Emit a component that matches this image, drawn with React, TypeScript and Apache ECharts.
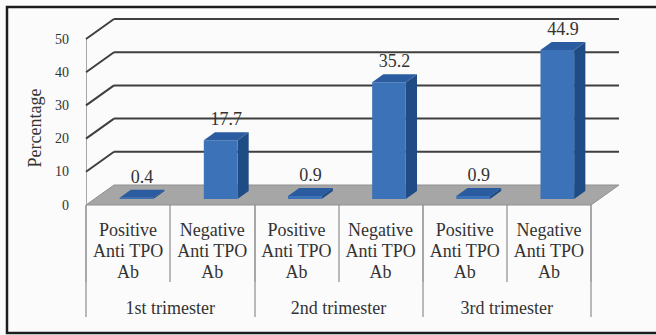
import React, { useEffect, useRef } from "react";
import * as echarts from "echarts";

const categories = [
  "Positive\nAnti TPO\nAb",
  "Negative\nAnti TPO\nAb",
  "Positive\nAnti TPO\nAb",
  "Negative\nAnti TPO\nAb",
  "Positive\nAnti TPO\nAb",
  "Negative\nAnti TPO\nAb",
];
const trimesters = ["1st trimester", "2nd trimester", "3rd trimester"];
const percentages = [0.4, 17.7, 0.9, 35.2, 0.9, 44.9];
const yTicks = [0, 10, 20, 30, 40, 50];

const DX = 28;
const DY = -20;
const FONT = "Liberation Serif";
const TEXT = "#333333";

export default function App() {
  const ref = useRef<HTMLDivElement>(null);
  useEffect(() => {
    const chart = echarts.init(ref.current!, null, { renderer: "svg" });
    const option: any = {
      animation: false,
      backgroundColor: "#fbfbfb",
      textStyle: { fontFamily: FONT },
      graphic: [
        {
          type: "rect",
          silent: true,
          shape: { x: 7, y: 7, width: 700, height: 326 },
          style: { fill: "none", stroke: "#1c1c1c", lineWidth: 2.5 },
        },
      ],
      grid: { left: 86, right: 65, top: 39, bottom: 130 },
      xAxis: [
        {
          type: "category",
          data: categories,
          axisLine: { show: false },
          axisTick: { show: true, length: 77, lineStyle: { color: "#a3a3a3", width: 1.5 } },
          axisLabel: {
            interval: 0,
            margin: 14,
            fontFamily: FONT,
            fontSize: 18,
            lineHeight: 21,
            color: TEXT,
          },
        },
        {
          type: "category",
          data: trimesters,
          position: "bottom",
          axisLine: { show: false },
          axisTick: { show: true, length: 112, lineStyle: { color: "#a3a3a3", width: 1.5 } },
          axisLabel: {
            interval: 0,
            margin: 94,
            fontFamily: FONT,
            fontSize: 18,
            color: TEXT,
          },
        },
      ],
      yAxis: {
        type: "value",
        min: 0,
        max: 50,
        interval: 10,
        name: "Percentage",
        nameLocation: "middle",
        nameGap: 30,
        nameRotate: 90,
        nameTextStyle: { fontFamily: FONT, fontSize: 18, color: TEXT, padding: [0, 12, 0, 0] },
        axisLine: { show: true, lineStyle: { color: "#a8a8a8", width: 1 } },
        axisTick: { show: false },
        splitLine: { show: false },
        axisLabel: { margin: 17, fontFamily: FONT, fontSize: 14, color: TEXT },
      },
      series: [
        {
          type: "custom",
          z: 1,
          silent: true,
          data: yTicks.map((v) => [0, v]),
          encode: { x: 0, y: 1 },
          renderItem: (params: any, api: any) => {
            const cs = params.coordSys;
            const v = api.value(1);
            const y = api.coord([0, v])[1];
            const x0 = cs.x;
            const x1 = cs.x + cs.width;
            if (v === 0) {
              return {
                type: "polygon",
                shape: { points: [[x0, y], [x1, y], [x1 + DX, y + DY], [x0 + DX, y + DY]] },
                style: { fill: "#a6a6a6", stroke: "#8f8f8f", lineWidth: 1 },
              };
            }
            return {
              type: "group",
              children: [
                {
                  type: "line",
                  shape: { x1: x0, y1: y, x2: x0 + DX, y2: y + DY },
                  style: { stroke: "#3f3f3f", lineWidth: 2 },
                },
                {
                  type: "line",
                  shape: { x1: x0 + DX, y1: y + DY, x2: x1 + DX, y2: y + DY },
                  style: { stroke: "#3f3f3f", lineWidth: 2 },
                },
              ],
            };
          },
        },
        {
          type: "custom",
          z: 3,
          data: percentages.map((v, i) => [i, v]),
          encode: { x: 0, y: 1 },
          renderItem: (params: any, api: any) => {
            const idx = api.value(0);
            const v = api.value(1);
            const base = api.coord([idx, 0]);
            const top = api.coord([idx, v]);
            const bw = api.size([1, 0])[0] * 0.4;
            const f0 = 0.3;
            const f1 = 0.7;
            const xl = base[0] - bw / 2 + f0 * DX;
            const xr = base[0] + bw / 2 + f0 * DX;
            const yb = base[1] + f0 * DY;
            const yt = top[1] + f0 * DY;
            const ddx = (f1 - f0) * DX;
            const ddy = (f1 - f0) * DY;
            return {
              type: "group",
              children: [
                {
                  type: "polygon",
                  shape: { points: [[xr, yb], [xr, yt], [xr + ddx, yt + ddy], [xr + ddx, yb + ddy]] },
                  style: { fill: "#1f4c85" },
                },
                {
                  type: "rect",
                  shape: { x: xl, y: yt, width: bw, height: Math.max(yb - yt, 0.5) },
                  style: { fill: "#3b72b8" },
                },
                {
                  type: "polygon",
                  shape: { points: [[xl, yt], [xr, yt], [xr + ddx, yt + ddy], [xl + ddx, yt + ddy]] },
                  style: { fill: "#2b5c9f" },
                },
                {
                  type: "text",
                  x: (xl + xr) / 2 + ddx / 2,
                  y: yt + ddy / 2 - 17,
                  style: {
                    text: String(v),
                    font: "18px 'Liberation Serif'",
                    fontFamily: FONT,
                    fontSize: 18,
                    fill: TEXT,
                    align: "center",
                    verticalAlign: "middle",
                  },
                },
              ],
            };
          },
        },
      ],
    };
    chart.setOption(option);
    return () => chart.dispose();
  }, []);
  return (
    <div
      ref={ref}
      style={{ position: "fixed", left: 0, top: 0, width: 656, height: 335, background: "#ffffff" }}
    />
  );
}
